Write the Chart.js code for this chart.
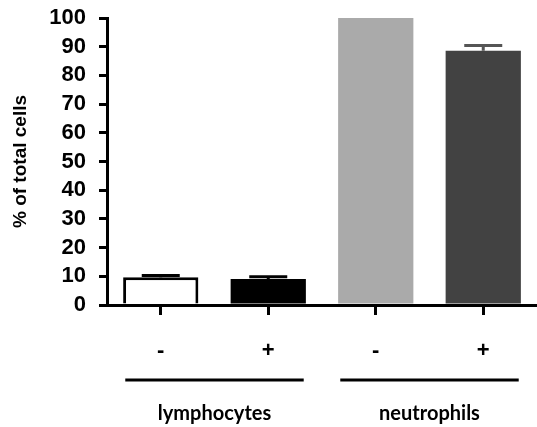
<!DOCTYPE html>
<html>
<head>
<meta charset="utf-8">
<script src="https://cdn.jsdelivr.net/npm/chart.js@4"></script>
<style>
  body { margin: 0; background: #fff; }
  canvas { display: block; }
</style>
</head>
<body>
<canvas id="chart" width="537" height="427"></canvas>
<script>
// values
const treatment = ['-', '+', '-', '+'];
const groups = ['lymphocytes', 'neutrophils'];
const groupSpans = [[0, 1], [2, 3]]; // category index range per group
const percent = [9.7, 9.1, 100, 88.6];
const errors = [0.6, 0.7, 0, 1.8];

// error bars on top of each bar
const errorBars = {
    id: 'errorBars',
    afterDatasetsDraw(chart) {
        const ctx = chart.ctx;
        const y = chart.scales.y;
        const meta = chart.getDatasetMeta(0);
        ctx.save();
        meta.data.forEach((bar, i) => {
            if (!errors[i]) return;
            const top = y.getPixelForValue(percent[i] + errors[i]);
            ctx.strokeStyle = i === 3 ? '#555' : '#000';
            ctx.lineWidth = 3;
            ctx.beginPath();
            ctx.moveTo(bar.x, bar.y);
            ctx.lineTo(bar.x, top);
            ctx.moveTo(bar.x - 19, top);
            ctx.lineTo(bar.x + 19, top);
            ctx.stroke();
        });
        ctx.restore();
    }
};

// group lines and names under the x axis
const groupLabels = {
    id: 'groupLabels',
    afterDraw(chart) {
        const ctx = chart.ctx;
        const x = chart.scales.x;
        const step = x.getPixelForValue(1) - x.getPixelForValue(0);
        ctx.save();
        ctx.strokeStyle = '#000';
        ctx.fillStyle = '#000';
        ctx.lineWidth = 3;
        ctx.font = 'bold 20px Lato';
        ctx.textAlign = 'center';
        ctx.textBaseline = 'middle';
        groupSpans.forEach((span, g) => {
            const a = x.getPixelForValue(span[0]) - step * 0.33;
            const b = x.getPixelForValue(span[1]) + step * 0.33;
            ctx.beginPath();
            ctx.moveTo(a, 380);
            ctx.lineTo(b, 380);
            ctx.stroke();
            ctx.fillText(groups[g], (a + b) / 2, 414);
        });
        ctx.restore();
    }
};

new Chart(document.getElementById('chart'), {
    type: 'bar',
    data: {
        labels: treatment,
        datasets: [{
            data: percent,
            backgroundColor: ['#ffffff', '#000000', '#aaaaaa', '#424242'],
            borderColor: ['#000000', '#000000', '#aaaaaa', '#424242'],
            borderWidth: [3, 0, 0, 0],
            borderSkipped: 'bottom',
            barPercentage: 0.7,
            categoryPercentage: 1
        }]
    },
    options: {
        responsive: false,
        animation: false,
        events: [],
        layout: { padding: { top: 18, right: 0, left: 0, bottom: 0 } },
        plugins: {
            legend: { display: false },
            tooltip: { enabled: false }
        },
        scales: {
            x: {
                offset: true,
                afterFit(scale) { scale.height = 122; },
                grid: {
                    offset: false,
                    drawOnChartArea: false,
                    drawTicks: true,
                    tickLength: 10,
                    color: '#000',
                    lineWidth: 3
                },
                border: { color: '#000', width: 3 },
                ticks: {
                    color: '#000',
                    padding: 23,
                    font: { family: 'Liberation Sans', size: 22, weight: 'bold' }
                }
            },
            y: {
                min: 0,
                max: 100,
                afterFit(scale) {
                    scale.width = 107;
                    scale.paddingTop = 0;
                    scale.paddingBottom = 0;
                },
                grid: {
                    drawOnChartArea: false,
                    drawTicks: true,
                    tickLength: 8,
                    color: '#000',
                    lineWidth: 3
                },
                border: { color: '#000', width: 3 },
                ticks: {
                    stepSize: 10,
                    autoSkip: false,
                    color: '#000',
                    padding: 13,
                    font: { family: 'Liberation Sans', size: 22, weight: 'bold' }
                },
                title: {
                    display: true,
                    text: '% of total cells',
                    color: '#000',
                    padding: { top: 9, bottom: 0 },
                    font: { family: 'Liberation Sans', size: 19, weight: 'bold' }
                }
            }
        }
    },
    plugins: [errorBars, groupLabels]
});
</script>
</body>
</html>
